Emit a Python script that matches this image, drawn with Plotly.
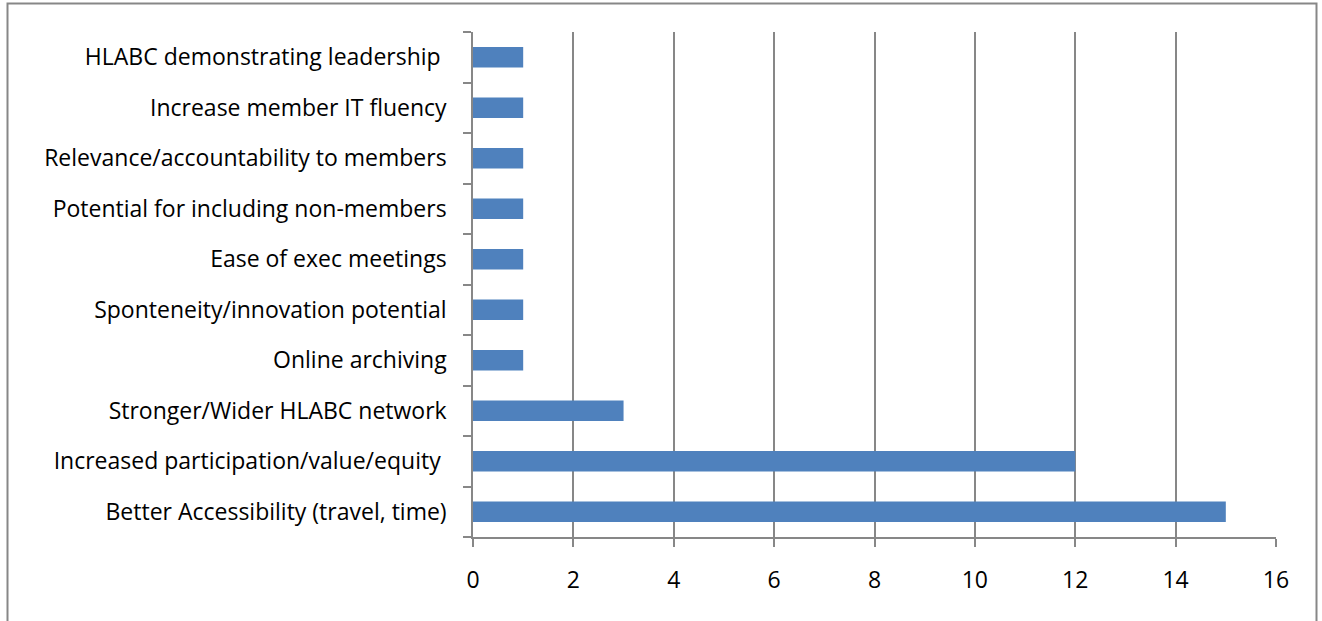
import plotly.graph_objects as go

# Survey themes (bottom to top) and how many responses mentioned each
categories = [
    "Better Accessibility (travel, time)",
    "Increased participation/value/equity\u00a0",
    "Stronger/Wider HLABC network",
    "Online archiving",
    "Sponteneity/innovation potential",
    "Ease of exec meetings",
    "Potential for including non-members",
    "Relevance/accountability to members",
    "Increase member IT fluency",
    "HLABC demonstrating leadership\u00a0",
]
counts = [15, 12, 3, 1, 1, 1, 1, 1, 1, 1]
x_ticks = [0, 2, 4, 6, 8, 10, 12, 14, 16]

W, H = 1322, 621
L, R, T, B = 473, 46, 32, 84
plot_w, plot_h = W - L - R, H - T - B

GRID = "#878787"
FONT = dict(family="'Open Sans', 'Noto Sans', sans-serif", size=23, color="#000000")


def px_to_paper_x(px):
    return (px - L) / plot_w


def px_to_paper_y(py):
    return (H - B - py) / plot_h


fig = go.Figure(
    go.Bar(
        y=categories,
        x=counts,
        orientation="h",
        width=0.41,
        marker=dict(color="#4F81BD", line=dict(width=0)),
        hoverinfo="x+y",
    )
)

fig.update_layout(
    width=W,
    height=H,
    margin=dict(l=L, r=R, t=T, b=B, pad=0),
    paper_bgcolor="white",
    plot_bgcolor="white",
    font=FONT,
    showlegend=False,
    shapes=[
        dict(
            type="rect",
            xref="paper",
            yref="paper",
            x0=px_to_paper_x(7.5),
            x1=px_to_paper_x(1316.5),
            y0=px_to_paper_y(630),
            y1=px_to_paper_y(3.5),
            line=dict(color=GRID, width=2),
            layer="below",
        )
    ],
)

fig.update_xaxes(
    range=[0, 16],
    tickvals=x_ticks,
    ticktext=[str(v) for v in x_ticks],
    showgrid=True,
    gridcolor=GRID,
    gridwidth=1.5,
    zeroline=False,
    showline=True,
    linecolor=GRID,
    linewidth=1.5,
    ticks="outside",
    ticklen=8,
    tickwidth=1.5,
    tickcolor=GRID,
    ticklabelstandoff=14,
    tickfont=FONT,
    fixedrange=True,
)

fig.update_yaxes(
    type="category",
    categoryorder="array",
    categoryarray=categories,
    range=[-0.5, len(categories) - 0.5],
    showgrid=False,
    zeroline=False,
    showline=True,
    linecolor=GRID,
    linewidth=1.5,
    ticks="outside",
    tickson="boundaries",
    ticklen=8,
    tickwidth=1.5,
    tickcolor=GRID,
    ticklabelstandoff=20,
    tickfont=FONT,
    fixedrange=True,
)

fig.write_html("out.html", config={"displayModeBar": False})
